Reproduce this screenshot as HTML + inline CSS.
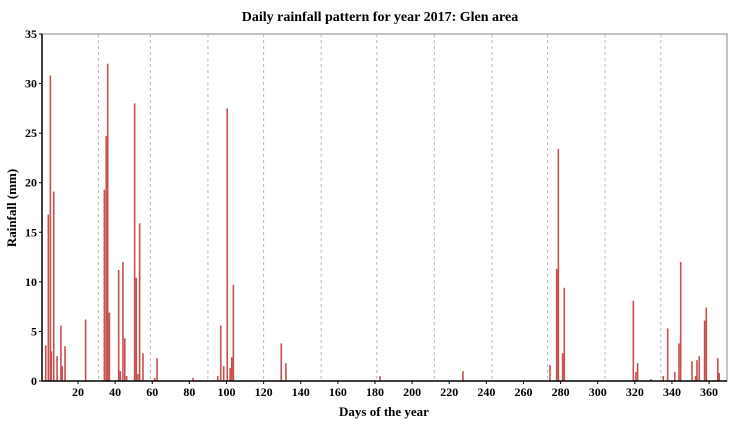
<!DOCTYPE html>
<html><head><meta charset="utf-8"><style>
body{margin:0;background:#fff;width:732px;height:424px;overflow:hidden}
text{font-family:"Liberation Serif",serif;font-weight:bold}
</style></head><body>
<svg id="chart" width="732" height="424" xmlns="http://www.w3.org/2000/svg">
<text x="380" y="21" text-anchor="middle" font-size="14">Daily rainfall pattern for year 2017: Glen area</text>
<g id="grid"></g>
<g id="bars"></g>
<g id="axes"></g>
<text x="384" y="416" text-anchor="middle" font-size="13">Days of the year</text>
<text transform="translate(16,208) rotate(-90)" text-anchor="middle" font-size="13">Rainfall (mm)</text>
</svg>
<script>
const days=[2.6,4,5.1,5.6,6.9,8.7,10.8,11.5,13,24.1,34.2,35.2,36,36.9,41.9,42.8,44.2,45.2,46.2,50.5,51.4,52.3,53.2,55,61.3,62.6,82,95.3,96.9,98.5,100.4,102,102.8,103.7,129.5,132,182.7,227.4,274.3,277.9,278.8,281.1,282,319.2,320.6,321.5,328.6,335.3,337.7,341.5,343.8,344.7,350.8,352.8,353.5,354.7,357.6,358.5,364.7,365.5];
const rain=[3.6,16.8,30.8,3.0,19.1,2.5,5.6,1.5,3.5,6.2,19.3,24.7,32,6.9,11.2,1,12,4.3,0.5,28,10.4,0.7,15.9,2.8,0.3,2.3,0.3,0.5,5.6,1.5,27.5,1.3,2.4,9.7,3.8,1.8,0.5,1.0,1.6,11.3,23.4,2.8,9.4,8.1,0.9,1.8,0.2,0.5,5.3,0.9,3.8,12,2,0.5,2.1,2.5,6.1,7.4,2.3,0.8];
const xTicks=[20,40,60,80,100,120,140,160,180,200,220,240,260,280,300,320,340,360];
const yTicks=[0,5,10,15,20,25,30,35];
const gridDays=[31,59,90,120,151,181,212,243,273,304,334];
const L=42,R=727,T=34,B=381;
const xs=d=>40.9+1.856*d;
const ys=v=>B-(v/35)*(B-T);
const NS="http://www.w3.org/2000/svg";
function mk(tag,attrs,parent){const e=document.createElementNS(NS,tag);for(const k in attrs)e.setAttribute(k,attrs[k]);parent.appendChild(e);return e;}
const grid=document.getElementById('grid'),bars=document.getElementById('bars'),axes=document.getElementById('axes');
gridDays.forEach(d=>{const l=mk('line',{x1:xs(d),x2:xs(d),y1:T,y2:B,stroke:'#b8b8b8','stroke-dasharray':'3,3','stroke-width':1},grid);

});
days.forEach((d,i)=>{const y=ys(rain[i]);const r=mk('rect',{x:xs(d)-0.8,y:y,width:1.6,height:B-y,fill:'#c94f4f'},bars);

});
const fr=mk('rect',{x:L,y:T,width:R-L,height:B-T,fill:'none',stroke:'#888','stroke-width':1},axes);


mk('line',{x1:L,x2:L,y1:T,y2:B,stroke:'#000','stroke-width':1.5},axes);
mk('line',{x1:L,x2:R,y1:B,y2:B,stroke:'#000','stroke-width':1.5},axes);
xTicks.forEach(t=>{mk('line',{x1:xs(t),x2:xs(t),y1:B,y2:B+3,stroke:'#000'},axes);
const tx=mk('text',{x:xs(t),y:B+15,'text-anchor':'middle','font-size':12},axes);tx.textContent=t;

});
yTicks.forEach(t=>{mk('line',{x1:L-3,x2:L,y1:ys(t),y2:ys(t),stroke:'#000'},axes);
const tx=mk('text',{x:L-5,y:ys(t)+4,'text-anchor':'end','font-size':12},axes);tx.textContent=t;

});
</script>
</body></html>
